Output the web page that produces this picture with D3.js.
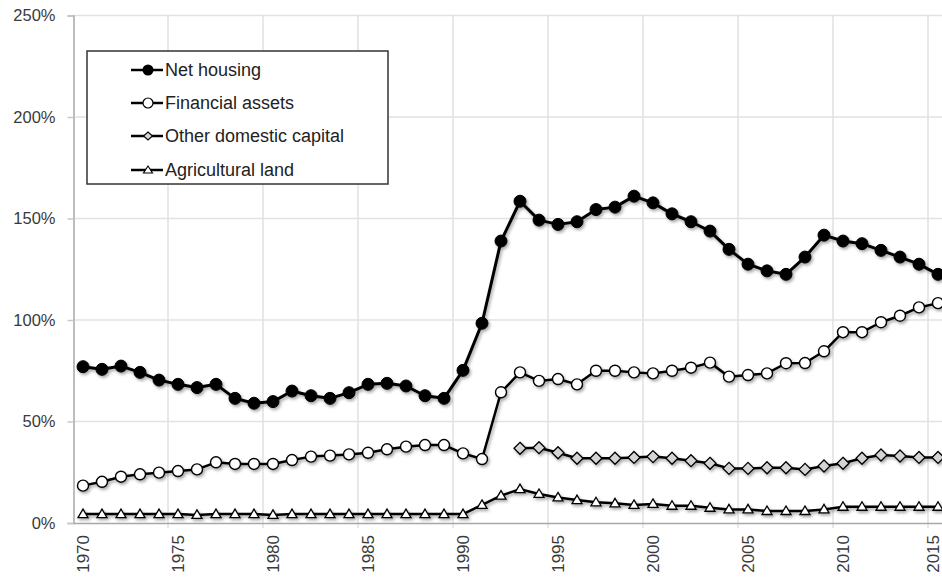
<!DOCTYPE html>
<html>
<head>
<meta charset="utf-8">
<script src="https://cdn.jsdelivr.net/npm/d3@7"></script>
<style>
  html, body { margin: 0; padding: 0; background: #fff; }
  svg { display: block; }
  text { font-family: "Liberation Sans", Arial, sans-serif; }
</style>
</head>
<body>
<svg id="chart" width="942" height="577"></svg>
<script>
const years = d3.range(1970, 2016);
const xTickYears = [1970, 1975, 1980, 1985, 1990, 1995, 2000, 2005, 2010, 2015];
const yTicks = [0, 50, 100, 150, 200, 250];

const netHousing = [77.0,75.7,77.3,74.2,70.4,68.3,66.7,68.3,61.4,59.0,
  59.8,65.0,62.7,61.4,64.2,68.3,68.8,67.5,62.7,61.4,
  75.2,98.4,138.9,158.5,149.2,147.1,148.4,154.4,155.6,161.0,
  157.7,152.3,148.4,143.8,134.8,127.5,124.2,122.5,131.0,141.8,
  138.9,137.6,134.3,131.0,127.5,122.5];
const financialAssets = [18.4,20.3,22.8,24.0,24.8,25.6,26.4,29.9,29.1,29.1,
  29.1,31.0,32.7,33.2,33.8,34.6,36.3,37.6,38.4,38.4,
  34.3,31.5,64.4,74.2,70.0,70.9,68.3,75.0,75.0,74.2,
  73.7,75.0,76.5,79.0,72.1,72.9,73.7,78.7,78.8,84.6,
  94.0,94.0,98.9,102.1,106.2,108.3];
const otherDomestic = [null,null,null,null,null,null,null,null,null,null,
  null,null,null,null,null,null,null,null,null,null,
  null,null,null,36.8,37.1,34.6,31.9,31.9,31.9,32.3,
  32.7,31.9,30.7,29.4,26.9,26.9,27.2,27.2,26.4,28.1,
  29.4,31.9,33.5,33.0,32.3,32.3];
const agriculturalLand = [4.4,4.4,4.4,4.4,4.4,4.4,4.0,4.4,4.4,4.4,
  4.0,4.4,4.4,4.4,4.4,4.4,4.4,4.4,4.4,4.4,
  4.4,8.9,13.5,16.7,14.3,12.6,11.3,10.2,9.7,8.9,
  9.4,8.5,8.5,7.5,6.7,6.7,5.9,5.9,5.9,6.7,
  8.0,8.0,8.0,8.0,8.0,8.0];
const seriesNames = ["Net housing", "Financial assets", "Other domestic capital", "Agricultural land"];

const svg = d3.select("#chart");
const W = 942;
const plotLeft = 73.5, plotBottom = 523, plotTop = 15.5, step = 19;

const x = d3.scaleBand().domain(years).range([plotLeft, plotLeft + years.length * step]).padding(0);
const y = d3.scaleLinear().domain([0, 250]).range([plotBottom, plotTop]);
const cx = d => x(d) + x.bandwidth() / 2;

// shadow filter
const defs = svg.append("defs");
const f = defs.append("filter").attr("id", "shadow").attr("x", "-20%").attr("y", "-20%").attr("width", "140%").attr("height", "140%");
f.append("feDropShadow").attr("dx", 1.5).attr("dy", 2).attr("stdDeviation", 1.4)
  .attr("flood-color", "#000").attr("flood-opacity", 0.35);

// horizontal gridlines
svg.append("g").selectAll("line").data(yTicks.filter(d => d > 0)).join("line")
  .attr("x1", plotLeft).attr("x2", W)
  .attr("y1", d => y(d)).attr("y2", d => y(d))
  .attr("stroke", "#e2e2e2").attr("stroke-width", 1.5);

// vertical gridlines at category boundaries every 5 years (with small ticks below axis)
svg.append("g").selectAll("line").data(xTickYears.filter(d => d > 1970)).join("line")
  .attr("x1", d => x(d) - 0.5).attr("x2", d => x(d) - 0.5)
  .attr("y1", plotTop).attr("y2", plotBottom + 5)
  .attr("stroke", "#e0e0e0").attr("stroke-width", 1.5);

// y axis
const yAxis = svg.append("g").attr("transform", `translate(${plotLeft},0)`)
  .call(d3.axisLeft(y).tickValues(yTicks).tickFormat(d => d + "%").tickSize(6).tickPadding(12));
yAxis.select(".domain").attr("stroke", "#a8a8a8").attr("stroke-width", 1.5);
yAxis.selectAll(".tick line").attr("stroke", "#c8c8c8").attr("stroke-width", 1.5);
yAxis.selectAll(".tick text").attr("font-size", 16.5).attr("fill", "#3a3a3a")
  .attr("font-family", "'Liberation Sans', Arial, sans-serif");

// x axis
const xAxis = svg.append("g").attr("transform", `translate(0,${plotBottom})`)
  .call(d3.axisBottom(x).tickValues(xTickYears).tickSize(0).tickPadding(0));
xAxis.select(".domain").attr("stroke", "#a8a8a8").attr("stroke-width", 1.5);
xAxis.selectAll(".tick text")
  .attr("font-size", 17).attr("fill", "#3a3a3a")
  .attr("font-family", "'Liberation Sans', Arial, sans-serif")
  .attr("transform", "rotate(-90)")
  .attr("text-anchor", "end").attr("dy", d => d === 2015 ? "0.05em" : "0.35em")
  .attr("x", -12).attr("y", 0);

// series
const lineGen = vals => d3.line()
  .defined((d, i) => vals[i] != null)
  .x(d => cx(d)).y((d, i) => y(vals[i]))(years);

const diamond = "M0,-6L6,0L0,6L-6,0Z";
const triangle = "M0,-5L5,3.5L-5,3.5Z";

function drawSeries(vals, lw, marker) {
  const g = svg.append("g").attr("filter", "url(#shadow)");
  g.append("path").attr("d", lineGen(vals)).attr("fill", "none")
    .attr("stroke", "#000").attr("stroke-width", lw).attr("stroke-linejoin", "round");
  const pts = years.map((yr, i) => ({ yr, v: vals[i] })).filter(d => d.v != null);
  const m = g.append("g").selectAll("g").data(pts).join("g")
    .attr("transform", d => `translate(${cx(d.yr)},${y(d.v)})`);
  marker(m);
}

drawSeries(agriculturalLand, 2.5, m => m.append("path").attr("d", triangle)
  .attr("fill", "#fff").attr("stroke", "#000").attr("stroke-width", 1.3));
drawSeries(otherDomestic, 2.5, m => m.append("path").attr("d", diamond)
  .attr("fill", "#d4d4d4").attr("stroke", "#000").attr("stroke-width", 1.3));
drawSeries(financialAssets, 2.5, m => m.append("circle").attr("r", 5.5)
  .attr("fill", "#fff").attr("stroke", "#000").attr("stroke-width", 1.4));
drawSeries(netHousing, 3, m => m.append("circle").attr("r", 6)
  .attr("fill", "#000").attr("stroke", "#000").attr("stroke-width", 1));

// legend
const lg = svg.append("g");
lg.append("rect").attr("x", 87).attr("y", 51).attr("width", 301).attr("height", 133)
  .attr("fill", "#fff").attr("stroke", "#333").attr("stroke-width", 1.5);
const legendY = [70, 103, 136, 170];
const legendMarkers = [
  s => s.append("circle").attr("r", 5.5).attr("fill", "#000"),
  s => s.append("circle").attr("r", 5).attr("fill", "#fff").attr("stroke", "#000").attr("stroke-width", 1.2),
  s => s.append("path").attr("d", "M0,-4L4.5,0L0,4L-4.5,0Z").attr("fill", "#d4d4d4").attr("stroke", "#000").attr("stroke-width", 1.1),
  s => s.append("path").attr("d", "M0,-4L4.5,3L-4.5,3Z").attr("fill", "#fff").attr("stroke", "#000").attr("stroke-width", 1.1)
];
seriesNames.forEach((name, i) => {
  const e = lg.append("g").attr("transform", `translate(0,${legendY[i]})`);
  e.append("line").attr("x1", 131).attr("x2", 163).attr("y1", 0).attr("y2", 0)
    .attr("stroke", "#000").attr("stroke-width", 2.5);
  legendMarkers[i](e.append("g").attr("transform", "translate(148,0)"));
  e.append("text").attr("x", 165).attr("y", 0).attr("dy", "0.36em")
    .attr("font-size", 18).attr("fill", "#222").text(name);
});
</script>
</body>
</html>
